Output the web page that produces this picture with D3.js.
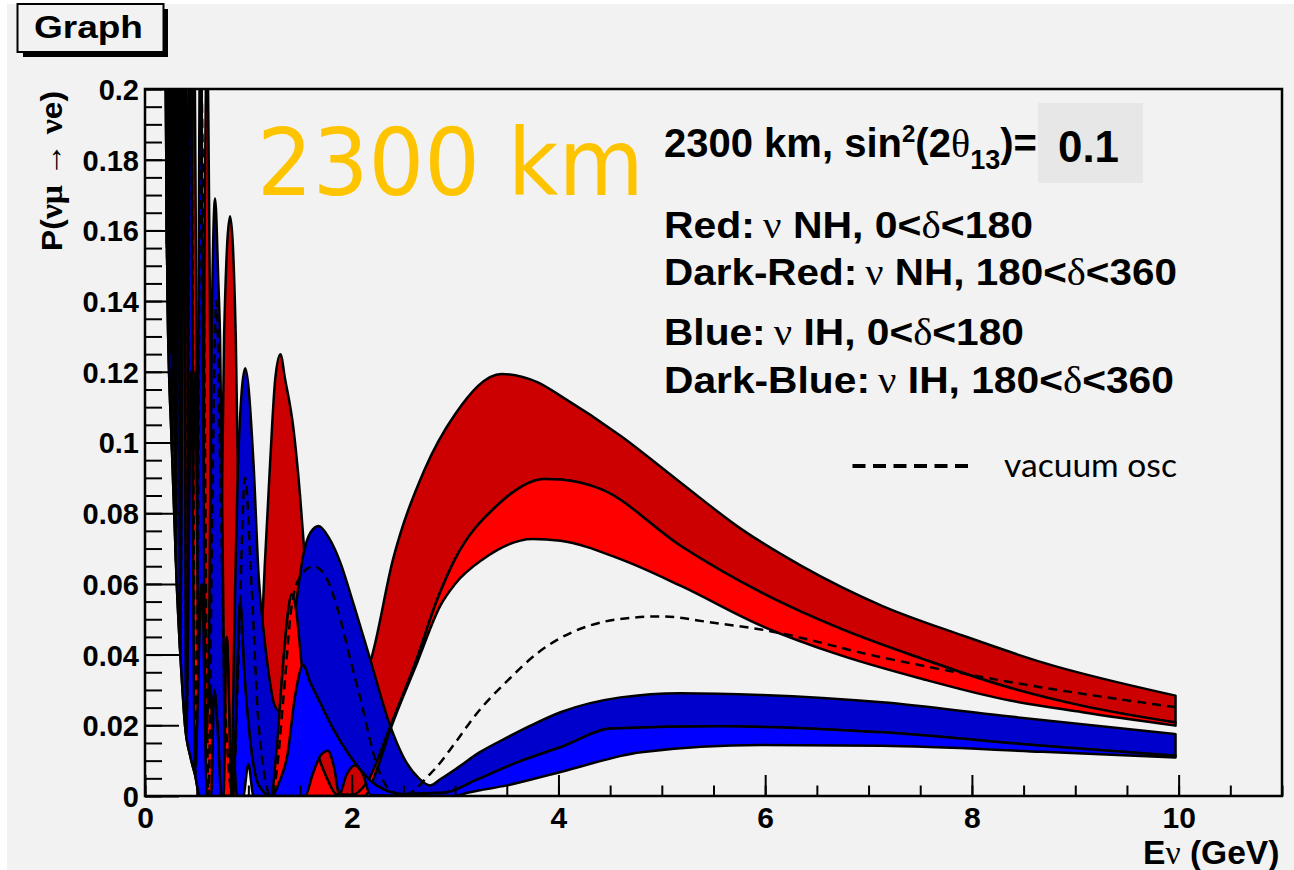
<!DOCTYPE html>
<html>
<head>
<meta charset="utf-8">
<script src="https://cdn.jsdelivr.net/npm/d3@7"></script>
<style>
  body { margin: 0; background: #fff; }
  svg { display: block; }
</style>
</head>
<body>
<div id="chart"></div>
<script>
// curves [E (GeV), P]
// normal hierarchy: top / middle / bottom edge of the red bands
const nhTop = [[0.200,0.30],[0.216,0.15],[0.227,0.30],[0.239,0.125],[0.253,0.30],[0.269,0.095],[0.287,0.30],[0.306,0.065],[0.329,0.30],[0.354,0.037],[0.388,0.28],[0.425,0.015],[0.474,0.24],[0.526,0.002],[0.55,0.0],[0.575,0.15],[0.60,0.215],[0.625,0.15],[0.66,0.0],[0.70,0.0],[0.73,0.05],[0.765,0.13],[0.823,0.164],[0.878,0.13],[0.92,0.05],[0.95,0.0],[1.08,0.0],[1.11,0.03],[1.16,0.066],[1.21,0.094],[1.26,0.118],[1.31,0.125],[1.355,0.118],[1.436,0.104],[1.50,0.085],[1.53,0.0736],[1.60,0.045],[1.70,0.027],[1.80,0.021],[1.90,0.022],[2.00,0.026],[2.10,0.032],[2.18,0.038],[2.40,0.067],[2.70,0.092],[3.00,0.108],[3.45,0.1194],[3.80,0.117],[4.02,0.1132],[4.60,0.1019],[5.18,0.0887],[5.77,0.0755],[6.35,0.0651],[7.13,0.0538],[7.91,0.0454],[8.68,0.0378],[9.97,0.0284]];
const nhMid = [[0.200,0.25],[0.216,0.15],[0.231,0.26],[0.239,0.125],[0.258,0.26],[0.269,0.095],[0.294,0.25],[0.306,0.065],[0.338,0.24],[0.354,0.037],[0.40,0.20],[0.425,0.015],[0.49,0.12],[0.526,0.002],[0.55,0.0],[0.63,0.03],[0.68,0.0],[0.76,0.0],[0.79,0.045],[0.84,0.0],[1.22,0.0],[1.27,0.012],[1.33,0.035],[1.38,0.051],[1.42,0.057],[1.46,0.053],[1.52,0.036],[1.60,0.02],[1.68,0.011],[1.76,0.005],[1.85,0.0005],[2.00,0.0003],[2.15,0.004],[2.37,0.0195],[2.63,0.0388],[2.82,0.055],[3.00,0.067],[3.40,0.082],[3.87,0.0897],[4.02,0.0895],[4.41,0.0868],[5.18,0.0708],[5.96,0.0576],[6.74,0.0472],[7.52,0.0388],[8.30,0.0312],[9.07,0.0255],[9.97,0.0208]];
const nhLow = [[0.200,0.20],[0.218,0.14],[0.258,0.10],[0.307,0.06],[0.350,0.036],[0.387,0.02],[0.440,0.011],[0.484,0.006],[0.530,0.0],[2.12,0.0],[2.25,0.008],[2.37,0.0185],[2.63,0.0375],[2.86,0.054],[3.00,0.060],[3.27,0.067],[3.75,0.0727],[4.02,0.0722],[4.60,0.067],[5.18,0.0595],[5.96,0.0482],[6.74,0.0397],[7.52,0.0331],[8.30,0.0274],[9.07,0.0237],[9.97,0.0199]];

// inverted hierarchy: top / middle / bottom edge of the blue bands
const ihTop = [[0.200,0.26],[0.203,0.28],[0.212,0.16],[0.223,0.28],[0.234,0.13],[0.247,0.28],[0.261,0.10],[0.277,0.28],[0.295,0.072],[0.315,0.27],[0.339,0.043],[0.366,0.26],[0.398,0.02],[0.437,0.24],[0.483,0.008],[0.51,0.10],[0.54,0.24],[0.565,0.10],[0.595,0.0],[0.625,0.06],[0.645,0.13],[0.678,0.169],[0.71,0.145],[0.726,0.13],[0.755,0.06],[0.78,0.0],[0.83,0.0],[0.87,0.056],[0.90,0.094],[0.97,0.121],[1.05,0.094],[1.10,0.062],[1.15,0.046],[1.20,0.034],[1.25,0.026],[1.30,0.024],[1.36,0.03],[1.41,0.042],[1.47,0.056],[1.53,0.068],[1.60,0.0745],[1.68,0.0764],[1.78,0.073],[1.89,0.066],[2.00,0.056],[2.18,0.0385],[2.37,0.020],[2.50,0.011],[2.65,0.005],[2.76,0.003],[2.86,0.0048],[3.00,0.0075],[3.24,0.0124],[3.50,0.0165],[3.73,0.0199],[4.02,0.0237],[4.60,0.0279],[5.18,0.0291],[5.96,0.0286],[7.13,0.0265],[8.30,0.0227],[9.97,0.0175]];
const ihMid = [[0.200,0.25],[0.212,0.155],[0.228,0.26],[0.234,0.125],[0.253,0.26],[0.261,0.098],[0.285,0.25],[0.295,0.069],[0.325,0.24],[0.339,0.041],[0.38,0.20],[0.398,0.018],[0.45,0.12],[0.483,0.007],[0.55,0.06],[0.60,0.0],[0.64,0.0],[0.67,0.03],[0.70,0.02],[0.74,0.0],[0.85,0.0],[0.89,0.03],[0.92,0.055],[0.96,0.035],[1.02,0.015],[1.10,0.003],[1.22,0.0],[1.30,0.004],[1.38,0.012],[1.45,0.028],[1.53,0.037],[1.60,0.032],[1.66,0.0284],[1.82,0.019],[1.98,0.0114],[2.24,0.003],[2.50,0.0005],[2.75,0.0008],[2.91,0.001],[3.20,0.0045],[3.60,0.0095],[4.02,0.0138],[4.52,0.0191],[5.57,0.0197],[7.13,0.0180],[8.68,0.0142],[9.97,0.0114]];
const ihLow = [[0.200,0.20],[0.218,0.14],[0.258,0.10],[0.307,0.06],[0.350,0.036],[0.387,0.02],[0.440,0.011],[0.484,0.006],[0.530,0.0],[0.83,0.0],[0.86,0.01],[0.89,0.0],[0.95,0.0],[1.00,0.009],[1.05,0.0],[1.55,0.0],[1.62,0.006],[1.70,0.0115],[1.77,0.0128],[1.83,0.008],[1.88,0.0005],[1.95,0.006],[2.03,0.0086],[2.11,0.006],[2.18,0.0003],[2.60,0.0],[3.00,0.0],[3.13,0.001],[3.50,0.003],[4.02,0.0068],[4.80,0.0124],[5.96,0.0144],[7.13,0.0142],[8.68,0.0125],[9.97,0.0109]];

// vacuum oscillation (dashed)
const vacuum = [[0.200,0.28],[0.205,0.30],[0.214,0.15],[0.225,0.30],[0.237,0.125],[0.250,0.30],[0.264,0.095],[0.280,0.30],[0.299,0.066],[0.320,0.28],[0.343,0.040],[0.370,0.26],[0.403,0.018],[0.440,0.23],[0.490,0.006],[0.545,0.20],[0.615,0.0],[0.650,0.08],[0.690,0.14],[0.730,0.09],[0.770,0.03],[0.850,0.0],[0.900,0.035],[0.968,0.090],[1.030,0.060],[1.100,0.020],[1.220,0.0],[1.270,0.006],[1.340,0.028],[1.420,0.054],[1.500,0.062],[1.630,0.065],[1.750,0.062],[1.856,0.0536],[2.000,0.037],[2.080,0.028],[2.240,0.0091],[2.370,0.0016],[2.500,0.0003],[2.600,0.0015],[2.740,0.0057],[2.800,0.0075],[3.000,0.015],[3.200,0.023],[3.520,0.033],[3.800,0.0405],[4.020,0.0447],[4.300,0.0482],[4.600,0.0501],[4.990,0.0508],[5.500,0.049],[5.960,0.0471],[7.130,0.0392],[8.300,0.0326],[9.970,0.0251]];

const xTicks = [0, 2, 4, 6, 8, 10];
const yTicks = [0, 0.02, 0.04, 0.06, 0.08, 0.1, 0.12, 0.14, 0.16, 0.18, 0.2];

// legend rows: [text, b = bold sans | g = greek]
const legendRows = [
  [["Red:\u2009", "b"], ["ν", "g"], [" NH, 0<", "b"], ["δ", "g"], ["<180", "b"]],
  [["Dark-Red:\u2009", "b"], ["ν", "g"], [" NH, 180<", "b"], ["δ", "g"], ["<360", "b"]],
  [["Blue:\u2009", "b"], ["ν", "g"], [" IH, 0<", "b"], ["δ", "g"], ["<180", "b"]],
  [["Dark-Blue:\u2009", "b"], ["ν", "g"], [" IH, 180<", "b"], ["δ", "g"], ["<360", "b"]]
];

const W = 1294, H = 870;
const SANS = "'Liberation Sans', Arial, sans-serif";
const SERIF = "'Liberation Serif', 'Times New Roman', serif";

const svg = d3.select("#chart").append("svg").attr("width", W).attr("height", H);
svg.append("rect").attr("x", 7).attr("y", 4).attr("width", W - 7).attr("height", H - 4).attr("fill", "#f2f2f2");

const x = d3.scaleLinear().domain([0, 11]).range([145, 1282]);
const y = d3.scaleLinear().domain([0, 0.2]).range([796, 89]);

// squeeze / stretch a text horizontally so it spans w px from x0
function fit(t, x0, w) {
  const s = w / t.node().getBBox().width;
  t.attr("transform", `translate(${x0 * (1 - s)},0) scale(${s},1)`);
}

svg.append("clipPath").attr("id", "plot")
  .append("rect").attr("x", 145).attr("y", 89).attr("width", 1137).attr("height", 707);

const line = d3.line().x(d => x(d[0])).y(d => y(d[1])).curve(d3.curveMonotoneX);
function band(upper, lower) {
  const b = line(lower.slice().reverse());
  return line(upper) + "L" + b.slice(1) + "Z";
}

const plot = svg.append("g").attr("clip-path", "url(#plot)");
[[nhTop, nhMid, "#cc0000"], [ihTop, ihMid, "#0000cc"], [nhMid, nhLow, "#ff0000"], [ihMid, ihLow, "#0000ff"]]
  .forEach(([u, l, c]) => {
    plot.append("path").attr("d", band(u, l))
      .attr("fill", c).attr("stroke", "#000").attr("stroke-width", 2.5)
      .attr("stroke-linejoin", "round");
  });

plot.append("path").attr("d", line(vacuum))
  .attr("fill", "none").attr("stroke", "#000").attr("stroke-width", 2.5)
  .attr("stroke-dasharray", "9,6");

// axes, ROOT style ticks inside the frame
const gx = svg.append("g").attr("transform", "translate(0,796)");
gx.append("g").call(d3.axisBottom(x).tickValues(d3.range(0, 11.01, 0.5)).tickSize(-10.5).tickFormat(""));
gx.append("g").call(d3.axisBottom(x).tickValues(xTicks).tickSize(-21).tickFormat(d3.format("d")));
gx.selectAll("text").attr("y", 32).attr("dy", 0)
  .attr("font-family", SANS).attr("font-weight", "bold").attr("font-size", 30).attr("fill", "#000");

const gy = svg.append("g").attr("transform", "translate(145,0)");
gy.append("g").call(d3.axisLeft(y).tickValues(d3.range(0, 0.2001, 0.005)).tickSize(-17).tickFormat(""));
gy.append("g").call(d3.axisLeft(y).tickValues(yTicks).tickSize(-34).tickFormat(d3.format(".2~f")));
gy.selectAll("text").attr("x", -6).attr("dy", "0.36em")
  .attr("font-family", SANS).attr("font-weight", "bold").attr("font-size", 29).attr("fill", "#000");

svg.selectAll(".domain").remove();
svg.selectAll(".tick line").attr("stroke", "#000").attr("stroke-width", 2);

svg.append("rect").attr("x", 145).attr("y", 89).attr("width", 1137).attr("height", 707)
  .attr("fill", "none").attr("stroke", "#000").attr("stroke-width", 2.5);

// axis titles
const xt = svg.append("text").attr("x", 1143).attr("y", 864)
  .attr("font-family", SANS).attr("font-weight", "bold").attr("font-size", 33);
xt.append("tspan").text("E");
xt.append("tspan").attr("font-family", SERIF).attr("font-weight", "normal").text("ν");
xt.append("tspan").text(" (GeV)");
fit(xt, 1143, 136.5);

const yt = svg.append("g").attr("transform", "translate(62,91) rotate(-90)")
  .append("text").attr("text-anchor", "end")
  .attr("font-family", SANS).attr("font-weight", "bold").attr("font-size", 30);
yt.append("tspan").text("P(");
yt.append("tspan").attr("font-family", SERIF).attr("font-size", 32).text("νμ → ν");
yt.append("tspan").text("e)");
yt.attr("transform", `scale(${160 / yt.node().getBBox().width},1)`);

// title box
svg.append("rect").attr("x", 23).attr("y", 9).attr("width", 145).attr("height", 48).attr("fill", "#000");
svg.append("rect").attr("x", 17.5).attr("y", 4).attr("width", 146).attr("height", 48)
  .attr("fill", "#f2f2f2").attr("stroke", "#000").attr("stroke-width", 2);
const tt = svg.append("text").attr("x", 34).attr("y", 38.5).attr("font-family", SANS)
  .attr("font-weight", "bold").attr("font-size", 32).text("Graph");
fit(tt, 34, 109);

// big yellow label
const yl = svg.append("text").attr("x", 257).attr("y", 195)
  .attr("font-family", "'DejaVu Sans', sans-serif").attr("font-size", 93)
  .attr("fill", "#ffc400").text("2300 km");
fit(yl, 257, 387);

// legend
const l1 = svg.append("text").attr("x", 664).attr("y", 157)
  .attr("font-family", SANS).attr("font-weight", "bold").attr("font-size", 40);
l1.append("tspan").text("2300 km, sin");
l1.append("tspan").attr("font-size", 24).attr("dy", -15).text("2");
l1.append("tspan").attr("dy", 15).text("(2");
l1.append("tspan").attr("font-family", SERIF).attr("font-weight", "normal").text("θ");
l1.append("tspan").attr("font-size", 27).attr("dy", 12).text("13");
l1.append("tspan").attr("dy", -12).text(")=");
fit(l1, 664, 373);

svg.append("rect").attr("x", 1038).attr("y", 103).attr("width", 105).attr("height", 80).attr("fill", "#e7e7e7");
const v1 = svg.append("text").attr("x", 1058).attr("y", 162)
  .attr("font-family", SANS).attr("font-weight", "bold").attr("font-size", 44).text("0.1");
fit(v1, 1058, 61);

const rowY = [238, 285, 345, 393];
const rowW = [369, 513, 360, 510];
legendRows.forEach((parts, i) => {
  const t = svg.append("text").attr("x", 664).attr("y", rowY[i])
    .attr("font-family", SANS).attr("font-weight", "bold").attr("font-size", 37);
  parts.forEach(([s, k]) => {
    const sp = t.append("tspan").text(s);
    if (k === "g") sp.attr("font-family", SERIF).attr("font-weight", "normal");
  });
  fit(t, 664, rowW[i]);
});

svg.append("line").attr("x1", 852.5).attr("x2", 970).attr("y1", 466).attr("y2", 466)
  .attr("stroke", "#000").attr("stroke-width", 4).attr("stroke-dasharray", "13,7.5");
const vo = svg.append("text").attr("x", 1004).attr("y", 477)
  .attr("font-family", "Lato, 'Open Sans', sans-serif").attr("font-size", 33).text("vacuum osc");
fit(vo, 1004, 173);
</script>
</body>
</html>
